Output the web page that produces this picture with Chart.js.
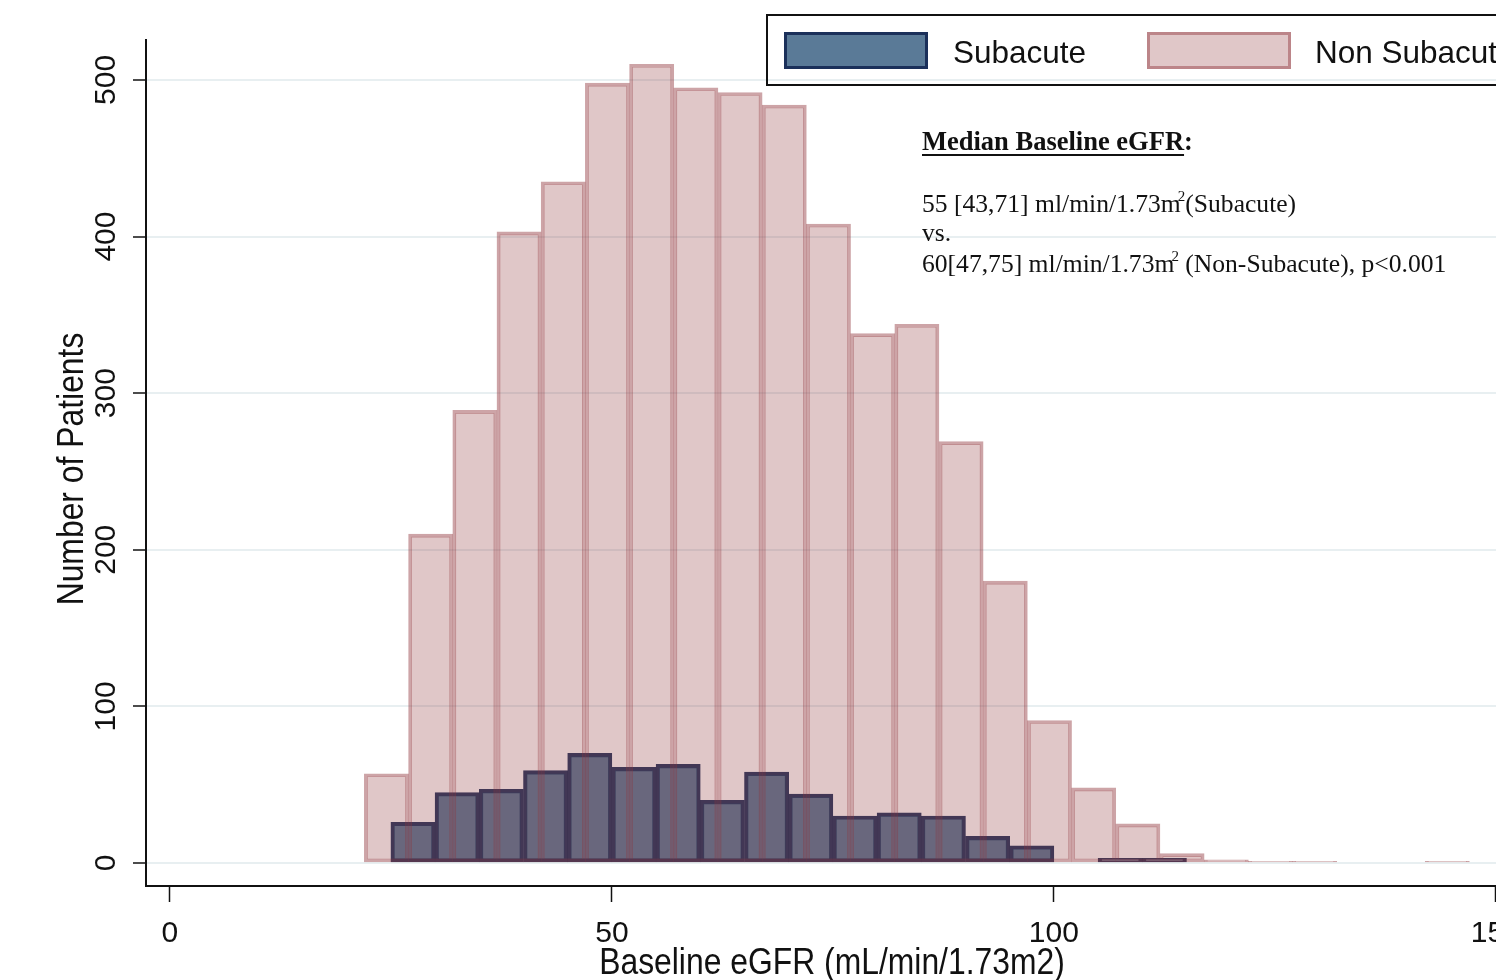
<!DOCTYPE html>
<html>
<head>
<meta charset="utf-8">
<title>Baseline eGFR histogram</title>
<script src="https://cdn.jsdelivr.net/npm/chart.js@4.4.1/dist/chart.umd.min.js"></script>
<style>
html, body { margin: 0; padding: 0; background: #fff; overflow: hidden; }
#wrap { position: absolute; left: 0; top: 0; width: 1560px; height: 980px; }
</style>
</head>
<body>
<div id="wrap"><canvas id="egfr-chartcanvas" width="1560" height="980"></canvas></div>
<script>
"use strict";

// histogram bins (lower edge of each bin) and patient counts
var binWidth = 5;
var nonSubStarts = [22, 27, 32, 37, 42, 47, 52, 57, 62, 67, 72, 77, 82, 87, 92, 97, 102, 107, 112, 117, 122, 127, 142];
var nonSubCounts = [57, 210, 289, 403, 435, 498, 510, 495, 492, 484, 408, 338, 344, 269, 180, 91, 48, 25, 6, 2, 1, 1, 1];
var subStarts = [25, 30, 35, 40, 45, 50, 55, 60, 65, 70, 75, 80, 85, 90, 95, 105, 110];
var subCounts = [26, 45, 47, 59, 70, 61, 63, 40, 58, 44, 30, 32, 30, 17, 11, 3, 3];

var xTicks = [0, 50, 100, 150];
var yTicks = [0, 100, 200, 300, 400, 500];
var seriesNames = ["Subacute", "Non Subacute"];
var xTitle = "Baseline eGFR (mL/min/1.73m2)";
var yTitle = "Number of Patients";
var noteHeading = "Median Baseline eGFR";
var noteLines = [
	["55 [43,71] ml/min/1.73m", "2", "(Subacute)"],
	["vs."],
	["60[47,75] ml/min/1.73m", "2", " (Non-Subacute), p<0.001"]
];

var sansFont = '"Liberation Sans", Arial, sans-serif';
var serifFont = '"Liberation Serif", "Times New Roman", serif';

var navyFill = "rgba(26, 71, 111, 0.72)";
var navyLine = "rgba(24, 44, 86, 0.95)";
var pinkFill = "rgba(144, 53, 59, 0.28)";
var pinkLine = "rgba(144, 53, 59, 0.45)";

function toPoints(starts, counts) {
	return starts.map(function(s, i) {
		return { x: s + binWidth / 2, y: counts[i] };
	});
}

function fixTicks(values) {
	return function(scale) {
		scale.ticks = values.map(function(v) { return { value: v }; });
	};
}

// sans text with optional rotation and horizontal squeeze
function sansText(ctx, text, x, y, size, align, rot, sx) {
	ctx.save();
	ctx.translate(x, y);
	if (rot) ctx.rotate(rot);
	ctx.scale(sx || 1, 1);
	ctx.font = size + "px " + sansFont;
	ctx.textAlign = align;
	ctx.textBaseline = "alphabetic";
	ctx.fillStyle = "#111";
	ctx.fillText(text, 0, 0);
	ctx.restore();
}

// axis labels, legend box and median annotation
var overlayPlugin = {
	id: "overlay",
	afterDraw: function(chart) {
		var ctx = chart.ctx;
		var ds = chart.data.datasets;
		var xs = chart.scales.x;
		var ys = chart.scales.y;
		var area = chart.chartArea;

		xTicks.forEach(function(v) {
			sansText(ctx, String(v), xs.getPixelForValue(v), 942, 30, "center", 0);
		});
		yTicks.forEach(function(v) {
			sansText(ctx, String(v), 115, ys.getPixelForValue(v), 30, "center", -Math.PI / 2);
		});
		sansText(ctx, xTitle, (area.left + area.right) / 2, 974, 36, "center", 0, 0.885);
		sansText(ctx, yTitle, 83, (area.top + area.bottom) / 2 + 6, 36, "center", -Math.PI / 2, 0.885);

		ctx.save();
		// legend
		ctx.lineWidth = 2;
		ctx.strokeStyle = "#111";
		ctx.strokeRect(767, 15, 780, 70);
		var swatchX = [784, 1147];
		var textX = [953, 1315];
		for (var i = 0; i < 2; i++) {
			ctx.fillStyle = "#fff";
			ctx.fillRect(swatchX[i], 32, 144, 37);
			ctx.fillStyle = ds[i].backgroundColor;
			ctx.fillRect(swatchX[i], 32, 144, 37);
			ctx.lineWidth = 3;
			ctx.strokeStyle = ds[i].borderColor;
			ctx.strokeRect(swatchX[i] + 1.5, 33.5, 141, 34);
			sansText(ctx, seriesNames[i], textX[i], 63, 31.5, "left", 0);
		}

		// annotation
		ctx.textBaseline = "alphabetic";
		ctx.textAlign = "left";
		ctx.fillStyle = "#111";
		ctx.font = "bold 26.5px " + serifFont;
		ctx.fillText(noteHeading, 922, 150);
		var headW = ctx.measureText(noteHeading).width;
		ctx.fillText(":", 922 + headW, 150);
		ctx.fillRect(922, 154, headW, 2);

		var baselines = [212, 241, 272];
		noteLines.forEach(function(parts, li) {
			var x = 922;
			parts.forEach(function(p, pi) {
				if (pi === 1) {
					ctx.font = "15px " + serifFont;
					ctx.fillText(p, x - 3, baselines[li] - 11);
					x += ctx.measureText(p).width - 3;
				} else {
					ctx.font = "25.6px " + serifFont;
					ctx.fillText(p, x, baselines[li]);
					x += ctx.measureText(p).width;
				}
			});
		});
		ctx.restore();
	}
};

var egfrCtx = document.getElementById("egfr-chartcanvas").getContext("2d");

var egfrChart = new Chart(egfrCtx, {
	type: "bar",
	data: {
		datasets: [
			{
				label: seriesNames[0],
				data: toPoints(subStarts, subCounts),
				xAxisID: "x2",
				backgroundColor: navyFill,
				borderColor: navyLine,
				borderWidth: 3.5,
				borderSkipped: false,
				barPercentage: 1,
				categoryPercentage: 1,
				grouped: false,
				order: 2
			},
			{
				label: seriesNames[1],
				data: toPoints(nonSubStarts, nonSubCounts),
				xAxisID: "x",
				backgroundColor: pinkFill,
				borderColor: pinkLine,
				borderWidth: 3,
				borderSkipped: false,
				barPercentage: 1,
				categoryPercentage: 1,
				grouped: false,
				order: 1
			}
		]
	},
	options: {
		responsive: false,
		animation: false,
		events: [],
		layout: { padding: { left: 20, top: 40, right: 42, bottom: 0 } },
		plugins: {
			legend: { display: false },
			tooltip: { enabled: false }
		},
		scales: {
			x: {
				type: "linear",
				position: "bottom",
				offset: false,
				min: -2.7,
				max: 152.5,
				afterBuildTicks: fixTicks(xTicks),
				afterFit: function(scale) { scale.height = 94; },
				grid: {
					offset: false,
					drawOnChartArea: false,
					drawTicks: true,
					tickLength: 16,
					tickColor: "#111",
					tickWidth: 1.5
				},
				border: { display: true, color: "#111", width: 2 },
				ticks: { display: false }
			},
			x2: {
				type: "linear",
				display: false,
				offset: false,
				grid: { offset: false },
				min: -2.7,
				max: 152.5
			},
			y: {
				type: "linear",
				min: -14.7,
				max: 525.5,
				afterBuildTicks: fixTicks(yTicks),
				afterFit: function(scale) { scale.width = 126; },
				grid: {
					color: "#e8eff1",
					lineWidth: 2,
					drawTicks: true,
					tickLength: 13,
					tickColor: "#111",
					tickWidth: 1.5
				},
				border: { display: true, color: "#111", width: 2 },
				ticks: { display: false }
			}
		}
	},
	plugins: [overlayPlugin]
});
</script>
</body>
</html>
